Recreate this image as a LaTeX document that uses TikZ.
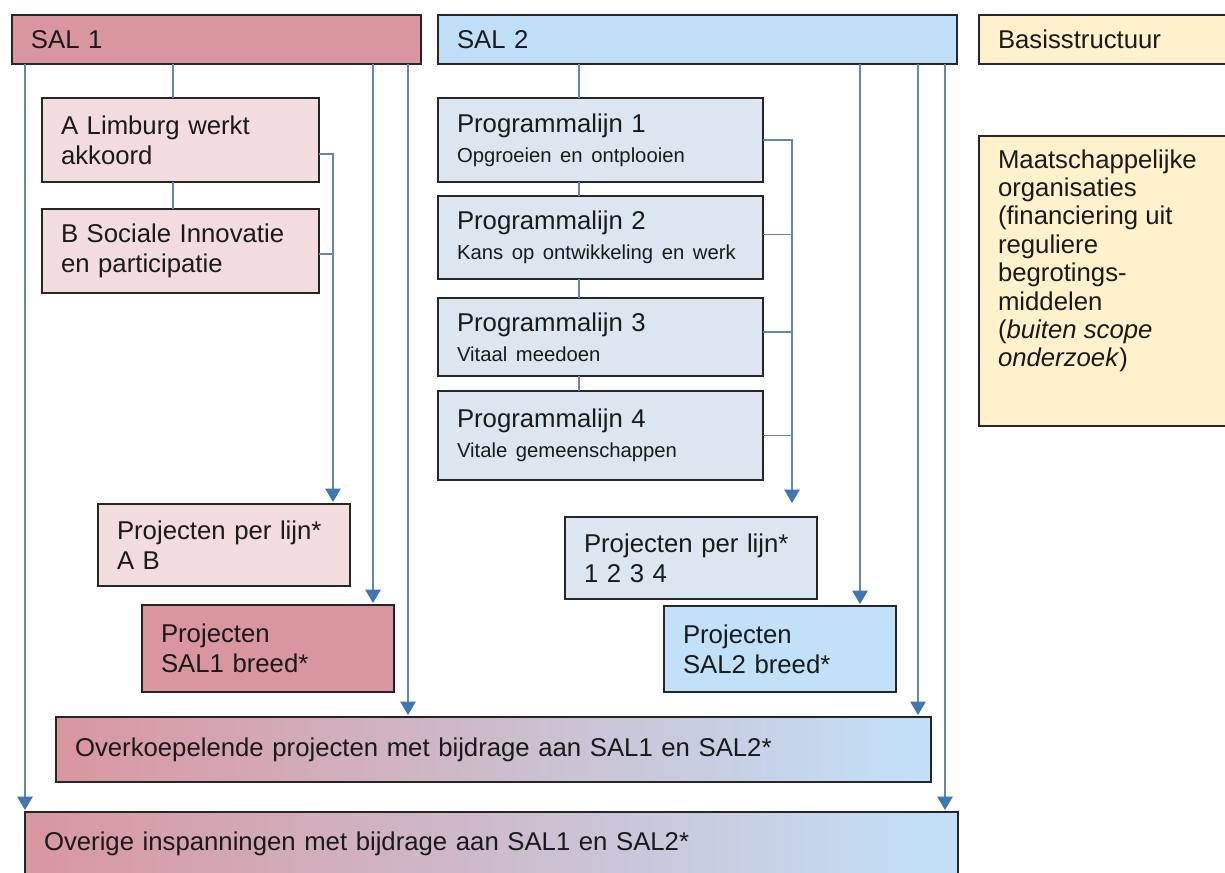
\documentclass[tikz,border=0pt]{standalone}
\usepackage{fontspec}
\setmainfont{Liberation Sans}
\usetikzlibrary{arrows.meta,calc}
\definecolor{salone}{HTML}{D9969F}
\definecolor{saloneLight}{HTML}{F2DCDE}
\definecolor{saltwo}{HTML}{BEDFF7}
\definecolor{saltwoLight}{HTML}{DCE6F1}
\definecolor{saltwoBreed}{HTML}{C1E1F9}
\definecolor{basis}{HTML}{FFF1CC}
\definecolor{conncol}{HTML}{5E86BA}
\definecolor{arrcol}{HTML}{3F76B6}
\definecolor{brd}{HTML}{262626}
\definecolor{txt}{HTML}{1A1A1A}
\newcommand\mainfs{\fontsize{19.3pt}{22.5pt}\selectfont}
\newcommand\smallfs{\fontsize{15.2pt}{21pt}\selectfont}
\newcommand\mybox[7]{%
  \pgfmathsetmacro\mybw{(#4-#2)*0.75}%
  \pgfmathsetmacro\mybh{(#5-#3)*0.75}%
  \pgfmathsetmacro\mytw{(#4-#2-38)*0.75}%
  \node[box,#6,anchor=north west,minimum width=\mybw pt,minimum height=\mybh pt,text width=\mytw pt] (#1) at (#2,#3) {#7};}
\begin{document}
\begin{tikzpicture}[x=0.75pt,y=-0.75pt,
  box/.style={draw=brd,line width=1.1pt,inner xsep=14.25pt,inner ysep=0pt,outer sep=0pt,align=left,font=\mainfs,text=txt},
  conn/.style={draw=conncol,line width=1.2pt},
  arr/.style={conn,-{Triangle[width=11.5pt,length=10pt,color=arrcol]},shorten >=1.5pt}]
\fill[white] (0,0) rectangle (1225,872);
\useasboundingbox (0,0) rectangle (1225,872);

% top row
\mybox{sal1}{12}{15}{421}{64}{fill=salone}{SAL 1}
\mybox{sal2}{438}{15}{957}{64}{fill=saltwo}{SAL 2}
\mybox{basis}{979}{15}{1232}{64}{fill=basis}{Basisstructuur}

% Maatschappelijke organisaties
\node[box,fill=basis,anchor=north west,minimum width=189.75pt,minimum height=217.5pt] (maat) at (979,136)
  {\begin{minipage}[c][197.25pt][t]{161.25pt}\fontsize{19.3pt}{21.3pt}\selectfont
   Maatschappelijke\\organisaties\\(financiering uit\\reguliere\\begrotings-\\middelen\\(\textit{buiten scope}\\\textit{onderzoek})\end{minipage}};

% SAL 1 column
\mybox{a}{42}{98}{319}{182}{fill=saloneLight}{A Limburg werkt\\akkoord}
\mybox{b}{42}{209}{319}{293}{fill=saloneLight}{B Sociale Innovatie\\en participatie}
\mybox{pla}{98}{504}{350}{586}{fill=saloneLight}{Projecten per lijn*\\A B}
\mybox{sob}{142}{605}{394}{692}{fill=salone}{Projecten\\SAL1 breed*}

% SAL 2 column
\mybox{p1}{438}{98}{763}{182}{fill=saltwoLight}{Programmalijn 1\\{\smallfs Opgroeien en ontplooien}}
\mybox{p2}{438}{196}{763}{279}{fill=saltwoLight}{Programmalijn 2\\{\smallfs Kans op ontwikkeling en werk}}
\mybox{p3}{438}{298}{763}{376}{fill=saltwoLight}{Programmalijn 3\\{\smallfs Vitaal meedoen}}
\mybox{p4}{438}{391}{763}{480}{fill=saltwoLight}{Programmalijn 4\\{\smallfs Vitale gemeenschappen}}
\mybox{plb}{565}{517}{817}{599}{fill=saltwoLight}{Projecten per lijn*\\1 2 3 4}
\mybox{stb}{664}{606}{896}{692}{fill=saltwoBreed}{Projecten\\SAL2 breed*}

% shared rows
\mybox{ok}{56}{717}{931}{782}{left color=salone,right color=saltwoBreed}{Overkoepelende projecten met bijdrage aan SAL1 en SAL2*}
\mybox{ov}{25}{812}{958}{876}{left color=salone,right color=saltwoBreed}{Overige inspanningen met bijdrage aan SAL1 en SAL2*}

% x positions of connectors
\coordinate (x25) at (25,0);
\coordinate (x173) at (173,0);
\coordinate (x333) at (333,0);
\coordinate (x373) at (373,0);
\coordinate (x408) at (408,0);
\coordinate (x579) at (579,0);
\coordinate (x792) at (792,0);
\coordinate (x860) at (860,0);
\coordinate (x918) at (918,0);
\coordinate (x945) at (945,0);

% SAL 1 tree
\draw[conn] (sal1.south -| x173) -- (a.north -| x173);
\draw[conn] (a.south -| x173) -- (b.north -| x173);
\draw[arr] ($(a.east)+(0,14)$) -| (pla.north -| x333);
\draw[conn] ($(b.east)+(0,3)$) -- ($(b.east -| x333)+(0,3)$);
\draw[arr] (sal1.south -| x373) -- (sob.north -| x373);
\draw[arr] (sal1.south -| x408) -- (ok.north -| x408);
\draw[arr] (sal1.south -| x25) -- (ov.north -| x25);

% SAL 2 tree
\draw[conn] (sal2.south -| x579) -- (p1.north -| x579);
\draw[conn] (p1.south -| x579) -- (p2.north -| x579);
\draw[conn] (p2.south -| x579) -- (p3.north -| x579);
\draw[conn] (p3.south -| x579) -- (p4.north -| x579);
\draw[arr,shorten >=10.5pt] (p1.east) -| (plb.north -| x792);
\draw[conn] ($(p2.east)+(0,-3)$) -- ($(p2.east -| x792)+(0,-3)$);
\draw[conn] ($(p3.east)+(0,-5)$) -- ($(p3.east -| x792)+(0,-5)$);
\draw[conn] (p4.east) -- (p4.east -| x792);
\draw[arr] (sal2.south -| x860) -- (stb.north -| x860);
\draw[arr] (sal2.south -| x918) -- (ok.north -| x918);
\draw[arr] (sal2.south -| x945) -- (ov.north -| x945);
\end{tikzpicture}
\end{document}
